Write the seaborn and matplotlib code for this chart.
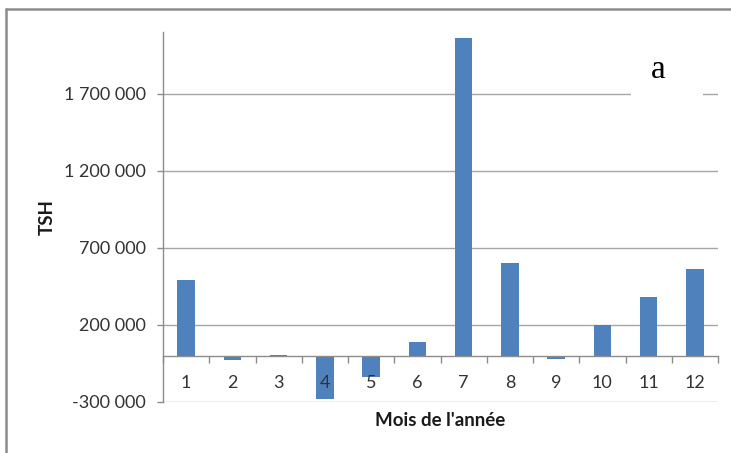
import matplotlib
matplotlib.use("Agg")
import matplotlib.pyplot as plt
import seaborn as sns
import pandas as pd
import numpy as np
from matplotlib.lines import Line2D
from matplotlib.patches import Rectangle
from matplotlib.ticker import FuncFormatter, MultipleLocator

# monthly TSH values
months = ["1", "2", "3", "4", "5", "6", "7", "8", "9", "10", "11", "12"]
tsh = [493000, -30000, 8000, -282000, -139000, 86000,
       2059000, 604000, -24000, 200000, 383000, 565000]

df = pd.DataFrame({"mois": months, "tsh": tsh})

sns.set_style("white")
plt.rcParams["font.family"] = ["Lato", "DejaVu Sans"]

fig = plt.figure(figsize=(7.31, 4.53), dpi=100)
ax = fig.add_axes([163 / 731, 51 / 453, 555 / 731, 370 / 453])

sns.barplot(data=df, x="mois", y="tsh", order=months, color="#4F81BD",
            saturation=1, width=0.38, linewidth=0, ax=ax, zorder=2)

ax.set_xlim(-0.5, 11.5)
ax.yaxis.set_major_locator(MultipleLocator(500000, offset=200000))
ax.yaxis.set_major_formatter(FuncFormatter(lambda v, p: f"{v:,.0f}".replace(",", " ")))
ax.set_ylim(-300000, 2100000)

# gridlines drawn under the bars, axis (labels) kept above them
ax.set_axisbelow(False)
ax.grid(False)
for v in ax.get_yticks():
    if -300000 <= v <= 2100000:
        ax.axhline(v, color="#A6A6A6", linewidth=1, zorder=0.5)

for s in ["top", "right"]:
    ax.spines[s].set_visible(False)
ax.spines["bottom"].set_position(("data", 0))
for s in ["left", "bottom"]:
    ax.spines[s].set_color("#8C8C8C")
    ax.spines[s].set_linewidth(1)

ax.set_xticks(np.arange(-0.5, 12, 1), minor=True)
ax.tick_params(axis="x", which="major", length=0, pad=14, labelsize=13, labelcolor="#333333")
ax.tick_params(axis="x", which="minor", length=5, direction="out", color="#8C8C8C", width=1)
ax.tick_params(axis="y", which="major", length=4.3, direction="out", color="#8C8C8C",
               width=1, pad=8, labelsize=13, labelcolor="#333333")
ax.tick_params(left=True, bottom=True)
ax.xaxis.set_tick_params(which="minor", bottom=True)

ax.set_xlabel("Mois de l'année", fontsize=13.5, fontweight="bold", color="#1a1a1a", va="center")
ax.xaxis.set_label_coords(0.5, -0.051)
ax.set_ylabel("TSH", fontsize=13.5, fontweight="bold", color="#1a1a1a", va="center")
ax.yaxis.set_label_coords(-0.209, 0.5)

# white text box with the panel letter
ax.add_patch(Rectangle((0.843, 0.80), 0.13, 0.07, transform=ax.transAxes,
                       facecolor="white", edgecolor="none", zorder=3))
ax.text(0.892, 0.897, "a", transform=ax.transAxes, ha="center", va="center",
        fontsize=24, family="Liberation Serif", color="black", zorder=4)

# outer chart frame
fig.add_artist(Line2D([6 / 731, 1], [1 - 9 / 453, 1 - 9 / 453], transform=fig.transFigure,
                      color="#8C8C8C", linewidth=1.8))
fig.add_artist(Line2D([6 / 731, 6 / 731], [0, 1 - 9 / 453], transform=fig.transFigure,
                      color="#8C8C8C", linewidth=1.8))

fig.savefig("out.png", dpi=100)
